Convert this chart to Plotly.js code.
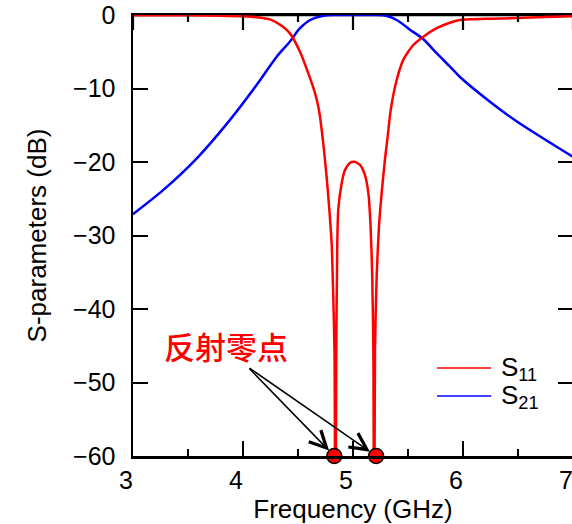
<!DOCTYPE html>
<html>
<head>
<meta charset="utf-8">
<script src="https://cdn.plot.ly/plotly-3.0.1.min.js"></script>
<style>
  html, body { margin: 0; padding: 0; background: #fff; overflow: hidden; }
  #chart { width: 573px; height: 524px; }
</style>
</head>
<body>
<div id="chart"></div>
<script>
// Two-pole bandpass filter: S-parameters vs frequency
const freqS11 = [3.0, 3.5, 3.8, 4.0, 4.125, 4.245, 4.36, 4.427, 4.518, 4.594, 4.655, 4.69, 4.73, 4.76, 4.785, 4.806, 4.82, 4.832, 4.840,
                 4.848, 4.857, 4.866, 4.897, 4.927, 4.973, 5.012, 5.064, 5.109, 5.14, 5.16, 5.175, 5.185, 5.192,
                 5.2, 5.215, 5.236, 5.26, 5.29, 5.315, 5.343, 5.397, 5.457, 5.548, 5.64, 5.76, 5.88, 5.97, 6.25, 6.49, 6.75, 7.0];
const dbS11   = [-0.02, -0.05, -0.1, -0.17, -0.3, -0.6, -1.55, -2.5, -5.0, -7.95, -10.65, -12.9, -17.5, -22.0, -26.5, -31.1, -37.9, -46, -80,
                 -46, -31.1, -26.5, -22.9, -21.1, -20.1, -19.96, -20.4, -21.8, -24.3, -28.8, -35.6, -45.6, -80,
                 -45.6, -35.6, -28.8, -24.3, -19.7, -16.55, -12.9, -8.85, -6.1, -4.08, -2.95, -1.8, -1.05, -0.68, -0.5, -0.42, -0.27, -0.15];

const freqS21 = [3.0, 3.276, 3.58, 3.88, 4.125, 4.306, 4.427, 4.518, 4.61, 4.73, 4.85, 5.0, 5.2, 5.3, 5.397, 5.518, 5.64, 5.76, 5.88, 5.97, 6.245, 6.49, 6.73, 7.0];
const dbS21   = [-27.1, -23.8, -19.5, -14.3, -9.5, -5.67, -3.6, -1.8, -0.68, -0.1, -0.01, 0, -0.01, -0.1, -0.68, -2.0, -3.3, -5.2, -7.0, -8.4, -11.8, -14.5, -16.8, -19.3];

// reflection zeros marked on the bottom axis
const zeroFreq = [4.83, 5.21];
const zeroDb   = [-60, -60];

const seriesNames = ['S<sub>11</sub>', 'S<sub>21</sub>'];
const seriesColors = ['#ff0000', '#0000ff'];
const zeroLabel = '反射零点';
const xTitle = 'Frequency (GHz)';
const yTitle = 'S-parameters (dB)';
const xRange = [3, 7];
const yRange = [-60, 0];
const xTicks = [3, 4, 5, 6, 7];
const xMinorTicks = [3.5, 4.5, 5.5, 6.5];
const yTicks = [0, -10, -20, -30, -40, -50, -60];

const baseFont = 'Liberation Sans, Arial, sans-serif';

const traces = [
  { x: freqS21, y: dbS21, type: 'scatter', mode: 'lines', name: seriesNames[1],
    line: { color: seriesColors[1], width: 2.5, shape: 'spline', smoothing: 0.8 }, hoverinfo: 'skip' },
  { x: freqS11, y: dbS11, type: 'scatter', mode: 'lines', name: seriesNames[0],
    line: { color: seriesColors[0], width: 2.5, shape: 'spline', smoothing: 0.6 }, hoverinfo: 'skip' },
  { x: zeroFreq, y: zeroDb, type: 'scatter', mode: 'markers', cliponaxis: false, showlegend: false,
    marker: { color: '#ff0000', size: 15, line: { color: '#000', width: 1.5 } }, hoverinfo: 'skip' }
];

// legend drawn as sample lines + labels inside the plot
const legendLineX = [0.691, 0.814];
const legendRowY = [0.1995, 0.136];
const shapes = legendRowY.map((yy, i) => ({
  type: 'line', xref: 'paper', yref: 'paper',
  x0: legendLineX[0], x1: legendLineX[1], y0: yy, y1: yy,
  line: { color: seriesColors[i], width: 1.5 }
}));

// frame edge along the top, with major and minor ticks hanging from it
const plotHeightPx = 441;
const toPaperX = v => (v - xRange[0]) / (xRange[1] - xRange[0]);
shapes.push({
  type: 'line', xref: 'paper', yref: 'paper', x0: 0, x1: 1, y0: 1, y1: 1,
  line: { color: '#000', width: 2.5 }, layer: 'below'
});
const topTick = (v, len) => ({
  type: 'line', xref: 'paper', yref: 'paper',
  x0: toPaperX(v), x1: toPaperX(v), y0: 1, y1: 1 - len / plotHeightPx,
  line: { color: '#000', width: 2.2 }
});
xTicks.forEach(v => shapes.push(topTick(v, 15)));
xMinorTicks.forEach(v => shapes.push(topTick(v, 7)));

const annotations = legendRowY.map((yy, i) => ({
  xref: 'paper', yref: 'paper', x: 0.832, y: yy, xanchor: 'left', yanchor: 'middle',
  text: seriesNames[i], showarrow: false,
  font: { family: baseFont, size: 26, color: '#000' }
}));

annotations.push({
  xref: 'x', yref: 'y', x: 3.845, y: -44.9, text: zeroLabel, showarrow: false,
  font: { family: 'Noto Sans CJK SC, sans-serif', size: 31, color: '#ff0000', weight: 500 }
});

// arrows from below the label to each reflection zero
zeroFreq.forEach((f, i) => {
  annotations.push({
    xref: 'x', yref: 'y', axref: 'x', ayref: 'y',
    x: f, y: zeroDb[i], ax: 4.045, ay: -47.9, text: '',
    showarrow: true, arrowhead: 5, arrowsize: 2.2, arrowwidth: 1.5, arrowcolor: '#000', standoff: 7.5
  });
});

const tickStyle = {
  ticks: 'inside', tickcolor: '#000', tickwidth: 2, ticklen: 15,
  showgrid: false, zeroline: false, fixedrange: true,
  tickfont: { family: baseFont, size: 25, color: '#000' }
};

const layout = {
  width: 573, height: 524,
  margin: { l: 133, r: 0, t: 15, b: 68 },
  paper_bgcolor: '#fff', plot_bgcolor: '#fff',
  showlegend: false,
  xaxis: Object.assign({}, tickStyle, {
    showline: true, linecolor: '#000', linewidth: 2.5, mirror: 'allticks',
    range: xRange, tickvals: xTicks, ticklabelshift: -7,
    minor: { tickvals: xMinorTicks, ticks: 'inside', ticklen: 7, tickwidth: 2, tickcolor: '#000', showgrid: false },
    title: { text: xTitle, font: { family: baseFont, size: 26, color: '#000' }, standoff: 8 },
    automargin: false
  }),
  yaxis: Object.assign({}, tickStyle, {
    showline: true, linecolor: '#000', linewidth: 2.5, mirror: 'ticks',
    range: yRange, tickvals: yTicks,
    ticklabelstandoff: 10,
    title: { text: yTitle, font: { family: baseFont, size: 26, color: '#000' }, standoff: 19 },
    automargin: false
  }),
  shapes: shapes,
  annotations: annotations
};

Plotly.newPlot('chart', traces, layout, { staticPlot: true, displayModeBar: false });
</script>
</body>
</html>
